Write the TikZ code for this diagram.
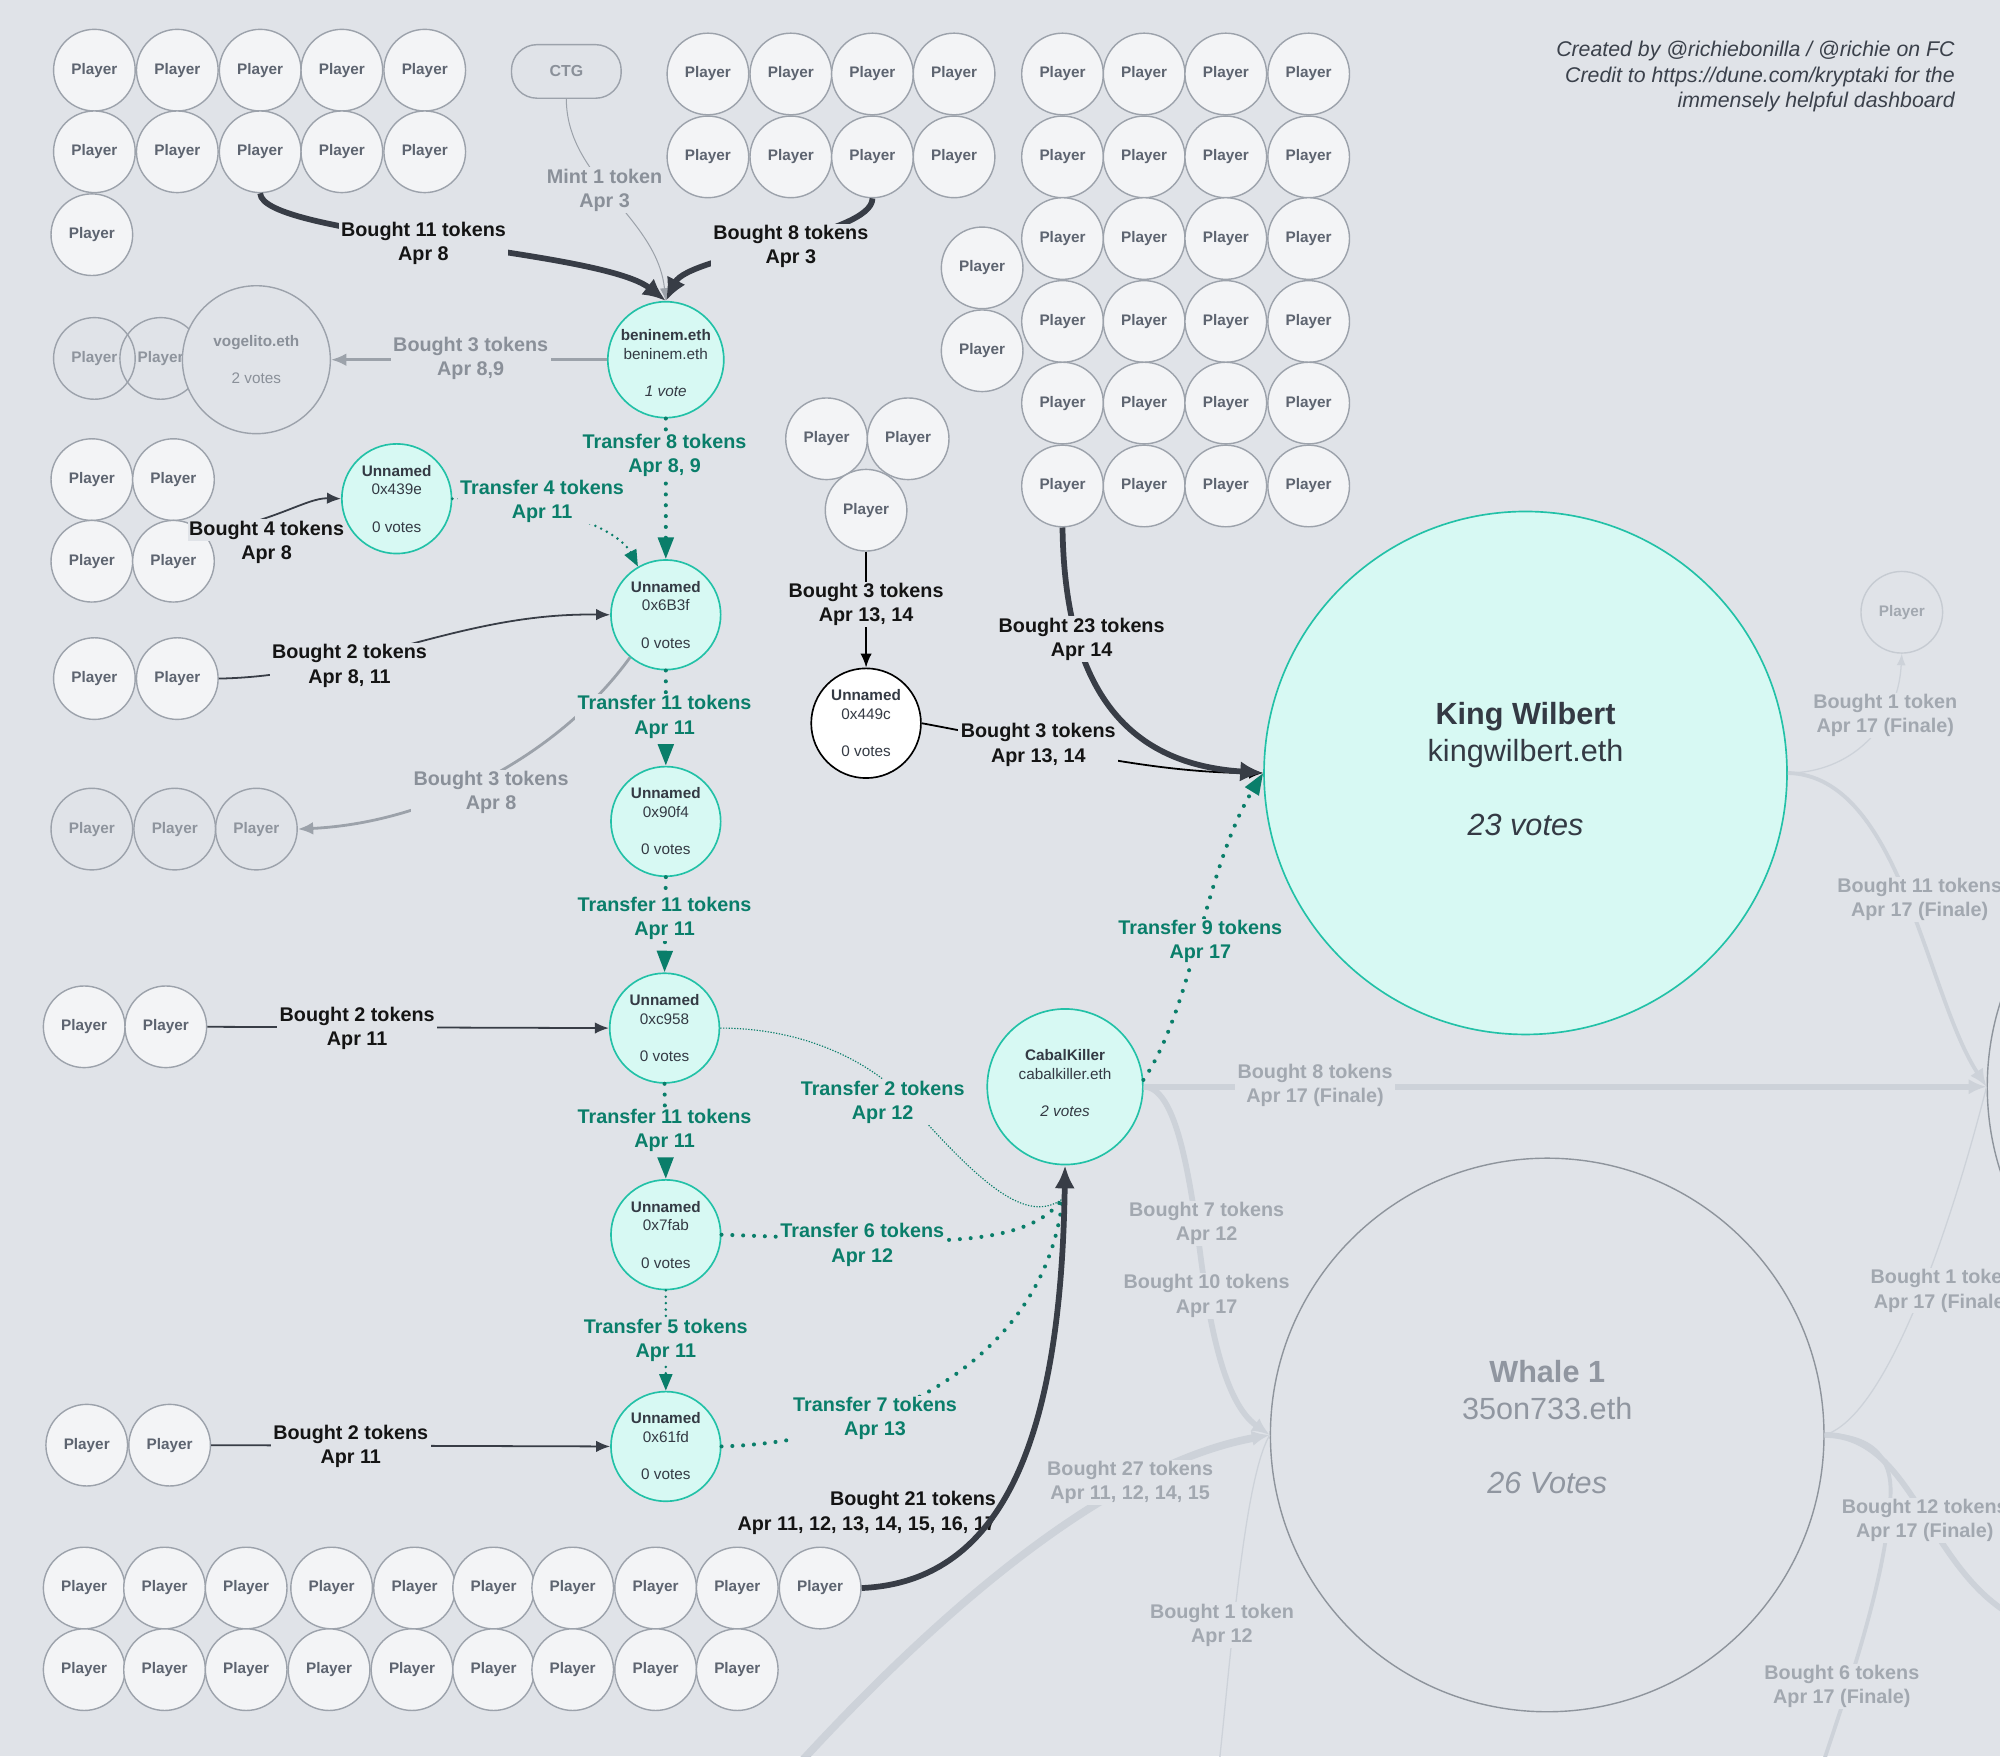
\documentclass[tikz,border=0pt]{standalone}
\usepackage{fontspec}
\setmainfont{Liberation Sans}
\usetikzlibrary{arrows.meta}
\definecolor{bg}{HTML}{E0E3E8}
\definecolor{pfill}{HTML}{F3F4F6}
\definecolor{pstroke}{HTML}{9CA2AB}
\definecolor{ptext}{HTML}{5D6470}
\definecolor{fptext}{HTML}{8E949D}
\definecolor{tfill}{HTML}{D7F9F3}
\definecolor{tstroke}{HTML}{22C1A7}
\definecolor{dtext}{HTML}{343A44}
\definecolor{edark}{HTML}{383D46}
\definecolor{tgreen}{HTML}{0A7E6A}
\definecolor{glabel}{HTML}{8A9099}
\definecolor{gline}{HTML}{9CA2AA}
\definecolor{flabel}{HTML}{A2A8B0}
\definecolor{fline}{HTML}{CDD2D9}
\definecolor{fpstroke}{HTML}{C6CBD2}
\definecolor{wstroke}{HTML}{8E949C}
\definecolor{wtext}{HTML}{9096A0}
\definecolor{ltext}{HTML}{141414}
\definecolor{ctext}{HTML}{3B414B}
\setlength{\fboxsep}{1pt}
\newcommand\plfont{\fontsize{12}{14}\selectfont\bfseries}
\newcommand\ndfont{\fontsize{12}{14.6}\selectfont}
\newcommand\lbfont{\fontsize{15.5}{19}\selectfont\bfseries}
\newcommand\bigfont{\fontsize{24}{29}\selectfont}
\newcommand\crfont{\fontsize{16.7}{20}\selectfont\itshape}
\begin{document}
\begin{tikzpicture}[x=1pt,y=-1pt,
  player/.style={circle,draw=pstroke,fill=pfill,line width=1.1pt,minimum size=64pt,inner sep=0pt,text=ptext,font=\plfont},
  fplayer/.style={player,fill=none,text=fptext},
  tnode/.style={circle,draw=tstroke,fill=tfill,line width=1.3pt,minimum size=86pt,inner sep=0pt,align=center,text=dtext,font=\ndfont},
  wnode/.style={tnode,draw=black,fill=white},
  whale/.style={circle,draw=wstroke,line width=1.1pt,minimum size=434pt,inner sep=0pt,align=center,text=wtext,font=\bigfont},
  ctgbox/.style={rectangle,rounded corners=20pt,draw=pstroke,line width=1.1pt,minimum width=86pt,minimum height=42pt,text=glabel,font=\fontsize{12.5}{14}\selectfont\bfseries},
  vognode/.style={circle,draw=pstroke,fill=bg,line width=1.1pt,minimum size=116pt,inner sep=0pt,align=center,text=glabel,font=\ndfont},
  lbl/.style={fill=bg,inner xsep=2pt,inner ysep=1pt,align=center,font=\lbfont,text=ltext,yshift=-2pt},
  tlbl/.style={lbl,text=tgreen},
  glbl/.style={lbl,text=glabel},
  flbl/.style={lbl,text=flabel},
  dthick/.style={draw=edark,line width=4.5pt,-{Latex[length=18pt,width=16pt]}},
  dthin/.style={draw=edark,line width=1.4pt,-{Latex[length=11pt,width=9pt]}},
  bthin/.style={draw=black,line width=1.4pt,-{Latex[length=11pt,width=9pt]}},
  tdots/.style={draw=tgreen,line width=3.2pt,line cap=round,dash pattern=on 0pt off 8.5pt},
  tsmall/.style={draw=tgreen,line width=2.2pt,line cap=round,dash pattern=on 0pt off 5pt},
  tfine/.style={draw=tgreen,line width=0.9pt,dash pattern=on 1pt off 1.2pt},
  tarr/.style={-{Triangle[length=17pt,width=12pt]}},
  tarrs/.style={-{Triangle[length=13pt,width=10pt]}},
  gmed/.style={draw=gline,line width=2.2pt,-{Latex[length=12pt,width=10pt]}},
  gthin/.style={draw=gline,line width=0.8pt,-{Latex[length=10pt,width=7pt]}},
  fthick/.style={draw=fline,line width=4.5pt},
  fmed/.style={draw=fline,line width=3pt},
  fthin/.style={draw=fline,line width=1pt},
  farr/.style={-{Latex[length=14pt,width=12pt]}},
  farrs/.style={-{Latex[length=9pt,width=7pt]}}
]
\useasboundingbox (0,0) rectangle (1568,1377);
\clip (0,0) rectangle (1568,1377);
\fill[bg] (0,0) rectangle (1568,1377);

% ---------- nodes ----------
\foreach \x [count=\i] in {74,139,204,268,333} {
  \node[player] (a1-\i) at (\x,55) {Player};
  \node[player] (a2-\i) at (\x,119) {Player};
}
\node[player] (a3) at (72,184) {Player};
\node[ctgbox] (ctg) at (444,56) {CTG};
\foreach \x [count=\i] in {555,620,684,748} {
  \node[player] (b1-\i) at (\x,58) {Player};
  \node[player] (b2-\i) at (\x,123) {Player};
}
\foreach \y [count=\r] in {58,123,187,252,316,381} {
  \foreach \x [count=\c] in {833,897,961,1026} {
    \node[player] (c\r-\c) at (\x,\y) {Player};
  }
}
\node[player] (cx1) at (770,210) {Player};
\node[player] (cx2) at (770,275) {Player};
\node[player] (d1) at (648,344) {Player};
\node[player] (d2) at (712,344) {Player};
\node[player] (d3) at (679,400) {Player};

\node[fplayer] (vp1) at (74,281) {Player};
\node[fplayer] (vp2) at (126,281) {Player};
\node[vognode] (vog) at (201,282) {{\bfseries vogelito.eth}\\[14.6pt]2 votes};

\node[tnode] (ben) at (522,282) {{\bfseries beninem.eth}\rule{0pt}{13.8pt}\\beninem.eth\\[14.6pt]{\itshape 1 vote}};

\node[player] (e1) at (72,376) {Player};
\node[player] (e2) at (136,376) {Player};
\node[player] (e3) at (72,440) {Player};
\node[player] (e4) at (136,440) {Player};
\node[tnode] (u439) at (311,391) {{\bfseries Unnamed}\\0x439e\\[14.6pt]0 votes};
\node[tnode] (u6b3) at (522,482) {{\bfseries Unnamed}\\0x6B3f\\[14.6pt]0 votes};
\node[player] (f1) at (74,532) {Player};
\node[player] (f2) at (139,532) {Player};
\node[tnode] (u90f) at (522,644) {{\bfseries Unnamed}\\0x90f4\\[14.6pt]0 votes};
\node[fplayer] (g1) at (72,650) {Player};
\node[fplayer] (g2) at (137,650) {Player};
\node[fplayer] (g3) at (201,650) {Player};
\node[tnode] (uc95) at (521,806) {{\bfseries Unnamed}\\0xc958\\[14.6pt]0 votes};
\node[player] (h1) at (66,805) {Player};
\node[player] (h2) at (130,805) {Player};
\node[tnode] (u7fa) at (522,968) {{\bfseries Unnamed}\\0x7fab\\[14.6pt]0 votes};
\node[tnode] (u61f) at (522,1134) {{\bfseries Unnamed}\\0x61fd\\[14.6pt]0 votes};
\node[player] (i1) at (68,1133) {Player};
\node[player] (i2) at (133,1133) {Player};
\node[wnode] (u449) at (679,567) {{\bfseries Unnamed}\\0x449c\\[14.6pt]0 votes};
\node[tnode,minimum size=122pt] (ck) at (835,852) {{\bfseries CabalKiller}\\cabalkiller.eth\\[14.6pt]{\itshape 2 votes}\rule[-6pt]{0pt}{6pt}};
\node[tnode,minimum size=410pt,font=\bigfont] (kw) at (1196,606) {{\bfseries King Wilbert}\\kingwilbert.eth\\[29pt]{\itshape 23 votes}\rule[-6pt]{0pt}{6pt}};
\node[whale] (w1) at (1213,1125) {{\bfseries Whale 1}\\35on733.eth\\[29pt]{\itshape 26 Votes}\rule[-12pt]{0pt}{12pt}};
\node[whale] (w2) at (1775,852) {};
\node[fplayer,draw=fpstroke,text=flabel] (pf) at (1491,480) {Player};

\foreach \x [count=\i] in {66,129,193,260,325,387,449,514,578,643} {
  \node[player] (r1-\i) at (\x,1245) {Player};
}
\foreach \x [count=\i] in {66,129,193,258,323,387,449,514,578} {
  \node[player] (r2-\i) at (\x,1309) {Player};
}

\coordinate (ckin) at (833,940);
\coordinate (b27) at (620,1390);
\coordinate (b1c) at (955,1390);
\coordinate (b12c) at (1580,1268);
\coordinate (b6c) at (1425,1395);

\node[font=\crfont,text=ctext,align=right,anchor=east] (credit) at (1536,60)
  {Created by @richiebonilla / @richie on FC\\Credit to https://dune.com/kryptaki for the\\immensely helpful dashboard};

% ---------- faded edges ----------
\draw[fthick,farr] (ck.east) -- (w2.west);
\draw[fthick,farr] (ck.east) .. controls (922,852) and (932,920) .. (940,975) .. controls (948,1040) and (960,1100) .. (w1.west);
\draw[fthick,line width=6pt,farr] (b27) .. controls (720,1280) and (860,1150) .. (w1.west);
\draw[fthin] (w1.west) .. controls (975,1160) and (965,1300) .. (b1c);
\draw[fthin,farrs] (kw.east) .. controls (1450,606) and (1488,570) .. (pf.south);
\draw[fmed,farr] (kw.east) .. controls (1490,608) and (1510,780) .. (w2.west);
\draw[fthin] (w1.east) .. controls (1480,1110) and (1530,960) .. (w2.west);
\draw[fthick] (w1.east) .. controls (1500,1125) and (1510,1230) .. (b12c);
\draw[fmed] (w1.east) .. controls (1475,1125) and (1484,1150) .. (1482,1175) .. controls (1478,1240) and (1450,1320) .. (b6c);

\node[flbl] (lf1) at (1031,849) {Bought 8 tokens\\Apr 17 (Finale)};
\node[flbl] (lf2a) at (946,957) {Bought 7 tokens\\Apr 12};
\node[flbl] (lf2b) at (946,1014) {Bought 10 tokens\\Apr 17};
\node[flbl] (lf3) at (886,1160) {Bought 27 tokens\\Apr 11, 12, 14, 15};
\node[flbl] (lf4) at (958,1272) {Bought 1 token\\Apr 12};
\node[flbl] (lf5) at (1478,559) {Bought 1 token\\Apr 17 (Finale)};
\node[flbl] (lf6) at (1505,703) {Bought 11 tokens\\Apr 17 (Finale)};
\node[flbl] (lf7) at (1523,1010) {Bought 1 token\\Apr 17 (Finale)};
\node[flbl] (lf8) at (1509,1190) {Bought 12 tokens\\Apr 17 (Finale)};
\node[flbl] (lf9) at (1444,1320) {Bought 6 tokens\\Apr 17 (Finale)};

% ---------- main edges ----------
\draw[gthin] (ctg.south) .. controls (444,140) and (515,170) .. (ben.north);
\draw[dthick] (a2-3.south) .. controls (205,185) and (470,195) .. (ben.north);
\draw[dthick] (b2-3.south) .. controls (684,185) and (540,200) .. (ben.north);
\draw[gmed] (ben.west) -- (vog.east);
\draw[tdots,tarr] (ben.south) -- (u6b3.north);
\draw[dthin] (e4.north east) .. controls (210,412) and (240,390) .. (u439.west);
\draw[tsmall,tarrs] (u439.east) .. controls (430,391) and (485,415) .. (u6b3.120);
\draw[dthin] (f2.east) .. controls (280,530) and (360,480) .. (u6b3.west);
\draw[tdots,tarr] (u6b3.south) -- (u90f.north);
\draw[gmed] (u6b3.230) .. controls (440,590) and (340,645) .. (g3.east);
\draw[tdots,tarr] (u90f.south) -- (uc95.north);
\draw[dthin] (h2.east) -- (uc95.west);
\draw[tdots,tarr] (uc95.south) -- (u7fa.north);
\draw[tfine] (uc95.east) .. controls (640,806) and (690,840) .. (710,862) .. controls (770,930) and (805,960) .. (ckin);
\draw[tdots] (u7fa.east) .. controls (700,972) and (800,985) .. (ckin);
\draw[tsmall,tarrs] (u7fa.south) -- (u61f.north);
\draw[dthin] (i2.east) -- (u61f.west);
\draw[tdots] (u61f.east) .. controls (700,1130) and (820,1060) .. (ckin);
\node[lbl,fill=none,align=right,anchor=east] (l19) at (783,1184) {Bought 21 tokens\\Apr 11, 12, 13, 14, 15, 16, 17};
\draw[dthick] (r1-10.east) .. controls (790,1240) and (832,1120) .. (ck.south);
\draw[bthin] (d3.south) -- (u449.north);
\draw[bthin] (u449.east) .. controls (820,585) and (900,606) .. (kw.west);
\draw[dthick] (c6-1.south) .. controls (835,560) and (900,600) .. (kw.west);
\draw[tdots,tarr] (ck.5) .. controls (935,790) and (945,680) .. (kw.west);

% ---------- labels ----------
\node[lbl] (l1) at (332,189) {Bought 11 tokens\\Apr 8};
\node[lbl] (l2) at (620,191) {Bought 8 tokens\\Apr 3};
\node[glbl] (l3) at (474,147) {Mint 1 token\\Apr 3};
\node[glbl] (l4) at (369,279) {Bought 3 tokens\\Apr 8,9};
\node[tlbl] (l5) at (521,355) {Transfer 8 tokens\\Apr 8, 9};
\node[lbl,fill=none] (l6) at (209,423) {\colorbox{bg}{Bought 4 tokens}\\\colorbox{bg}{Apr 8}};
\node[tlbl] (l7) at (425,391) {Transfer 4 tokens\\Apr 11};
\node[lbl] (l8) at (274,520) {Bought 2 tokens\\Apr 8, 11};
\node[tlbl] (l9) at (521,560) {Transfer 11 tokens\\Apr 11};
\node[glbl] (l10) at (385,619) {Bought 3 tokens\\Apr 8};
\node[tlbl] (l11) at (521,718) {Transfer 11 tokens\\Apr 11};
\node[lbl] (l12) at (280,804) {Bought 2 tokens\\Apr 11};
\node[tlbl] (l13) at (521,884) {Transfer 11 tokens\\Apr 11};
\node[tlbl] (l14) at (692,862) {Transfer 2 tokens\\Apr 12};
\node[tlbl] (l15) at (676,974) {Transfer 6 tokens\\Apr 12};
\node[tlbl] (l16) at (522,1049) {Transfer 5 tokens\\Apr 11};
\node[lbl] (l17) at (275,1132) {Bought 2 tokens\\Apr 11};
\node[tlbl] (l18) at (686,1110) {Transfer 7 tokens\\Apr 13};
\node[lbl] (l20) at (679,472) {Bought 3 tokens\\Apr 13, 14};
\node[lbl] (l21) at (814,582) {Bought 3 tokens\\Apr 13, 14};
\node[lbl] (l22) at (848,499) {Bought 23 tokens\\Apr 14};
\node[tlbl] (l23) at (941,736) {Transfer 9 tokens\\Apr 17};
\end{tikzpicture}
\end{document}
